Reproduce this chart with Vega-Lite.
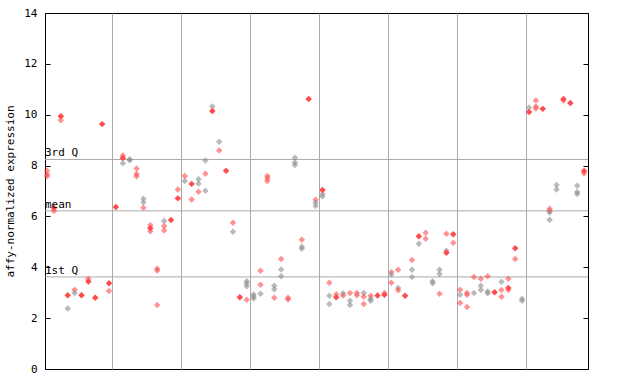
{
  "$schema": "https://vega.github.io/schema/vega-lite/v6.json",
  "width": 543,
  "height": 356,
  "autosize": "none",
  "padding": {"left": 45, "top": 13, "right": 52, "bottom": 15},
  "background": "white",
  "config": {
    "view": {"stroke": "black", "strokeWidth": 1},
    "font": "DejaVu Sans Mono"
  },
  "datasets": {
    "pts": [
      {"s":0,"v":7.80,"c":"r","f":"h"},{"s":0,"v":7.66,"c":"r","f":"h"},{"s":0,"v":7.58,"c":"r","f":"h"},
      {"s":1,"v":6.33,"c":"r","f":"f"},{"s":1,"v":6.21,"c":"r","f":"h"},
      {"s":2,"v":9.94,"c":"r","f":"f"},{"s":2,"v":9.78,"c":"r","f":"h"},
      {"s":3,"v":2.90,"c":"r","f":"f"},{"s":3,"v":2.38,"c":"g","f":"h"},
      {"s":4,"v":3.12,"c":"r","f":"h"},{"s":4,"v":2.99,"c":"g","f":"h"},
      {"s":5,"v":2.90,"c":"r","f":"f"},
      {"s":6,"v":3.55,"c":"r","f":"h"},{"s":6,"v":3.44,"c":"r","f":"f"},
      {"s":7,"v":2.80,"c":"r","f":"f"},
      {"s":8,"v":9.63,"c":"r","f":"f"},
      {"s":9,"v":3.37,"c":"r","f":"f"},{"s":9,"v":3.07,"c":"r","f":"h"},
      {"s":10,"v":6.37,"c":"r","f":"f"},
      {"s":11,"v":8.40,"c":"r","f":"h"},{"s":11,"v":8.30,"c":"r","f":"f"},{"s":11,"v":8.09,"c":"g","f":"h"},
      {"s":12,"v":8.25,"c":"g","f":"h"},{"s":12,"v":8.21,"c":"g","f":"h"},
      {"s":13,"v":7.88,"c":"r","f":"h"},{"s":13,"v":7.67,"c":"r","f":"h"},{"s":13,"v":7.58,"c":"r","f":"h"},
      {"s":14,"v":6.70,"c":"g","f":"h"},{"s":14,"v":6.56,"c":"g","f":"h"},{"s":14,"v":6.34,"c":"r","f":"h"},
      {"s":15,"v":5.65,"c":"r","f":"h"},{"s":15,"v":5.54,"c":"r","f":"f"},{"s":15,"v":5.42,"c":"r","f":"h"},
      {"s":16,"v":3.94,"c":"r","f":"h"},{"s":16,"v":3.87,"c":"r","f":"h"},{"s":16,"v":2.52,"c":"r","f":"h"},
      {"s":17,"v":5.82,"c":"g","f":"h"},{"s":17,"v":5.62,"c":"r","f":"h"},{"s":17,"v":5.45,"c":"r","f":"h"},
      {"s":18,"v":5.86,"c":"r","f":"f"},
      {"s":19,"v":7.06,"c":"r","f":"h"},{"s":19,"v":6.71,"c":"r","f":"f"},
      {"s":20,"v":7.59,"c":"r","f":"h"},{"s":20,"v":7.39,"c":"g","f":"h"},
      {"s":21,"v":7.28,"c":"r","f":"f"},{"s":21,"v":6.67,"c":"r","f":"h"},
      {"s":22,"v":7.46,"c":"g","f":"h"},{"s":22,"v":7.29,"c":"g","f":"h"},{"s":22,"v":6.97,"c":"r","f":"h"},
      {"s":23,"v":8.20,"c":"g","f":"h"},{"s":23,"v":7.68,"c":"r","f":"h"},{"s":23,"v":7.01,"c":"g","f":"h"},
      {"s":24,"v":10.32,"c":"g","f":"h"},{"s":24,"v":10.15,"c":"r","f":"f"},
      {"s":25,"v":8.94,"c":"g","f":"h"},{"s":25,"v":8.59,"c":"r","f":"h"},
      {"s":26,"v":7.80,"c":"r","f":"f"},
      {"s":27,"v":5.75,"c":"r","f":"h"},{"s":27,"v":5.40,"c":"g","f":"h"},
      {"s":28,"v":2.82,"c":"r","f":"f"},
      {"s":29,"v":3.45,"c":"g","f":"h"},{"s":29,"v":3.36,"c":"g","f":"h"},{"s":29,"v":3.25,"c":"g","f":"h"},{"s":29,"v":2.72,"c":"r","f":"h"},
      {"s":30,"v":2.93,"c":"g","f":"h"},{"s":30,"v":2.85,"c":"g","f":"h"},{"s":30,"v":2.77,"c":"g","f":"h"},
      {"s":31,"v":3.86,"c":"r","f":"h"},{"s":31,"v":3.31,"c":"r","f":"h"},{"s":31,"v":2.96,"c":"g","f":"h"},
      {"s":32,"v":7.59,"c":"r","f":"h"},{"s":32,"v":7.50,"c":"r","f":"h"},{"s":32,"v":7.39,"c":"r","f":"h"},
      {"s":33,"v":3.27,"c":"g","f":"h"},{"s":33,"v":3.14,"c":"g","f":"h"},{"s":33,"v":2.80,"c":"r","f":"h"},
      {"s":34,"v":4.33,"c":"r","f":"h"},{"s":34,"v":3.91,"c":"g","f":"h"},{"s":34,"v":3.65,"c":"g","f":"h"},
      {"s":35,"v":2.80,"c":"r","f":"h"},{"s":35,"v":2.73,"c":"r","f":"h"},
      {"s":36,"v":8.31,"c":"g","f":"h"},{"s":36,"v":8.12,"c":"g","f":"h"},{"s":36,"v":8.02,"c":"g","f":"h"},
      {"s":37,"v":5.08,"c":"r","f":"h"},{"s":37,"v":4.81,"c":"g","f":"h"},{"s":37,"v":4.73,"c":"g","f":"h"},
      {"s":38,"v":10.62,"c":"r","f":"f"},
      {"s":39,"v":6.66,"c":"r","f":"h"},{"s":39,"v":6.54,"c":"g","f":"h"},{"s":39,"v":6.41,"c":"g","f":"h"},
      {"s":40,"v":7.04,"c":"r","f":"f"},{"s":40,"v":6.88,"c":"g","f":"h"},{"s":40,"v":6.78,"c":"g","f":"h"},
      {"s":41,"v":3.39,"c":"r","f":"h"},{"s":41,"v":2.88,"c":"g","f":"h"},{"s":41,"v":2.56,"c":"g","f":"h"},
      {"s":42,"v":2.94,"c":"r","f":"h"},{"s":42,"v":2.82,"c":"r","f":"f"},
      {"s":43,"v":2.98,"c":"g","f":"h"},{"s":43,"v":2.89,"c":"r","f":"h"},
      {"s":44,"v":2.99,"c":"r","f":"h"},{"s":44,"v":2.68,"c":"g","f":"h"},{"s":44,"v":2.52,"c":"g","f":"h"},
      {"s":45,"v":2.99,"c":"r","f":"h"},{"s":45,"v":2.90,"c":"r","f":"h"},
      {"s":46,"v":2.99,"c":"g","f":"h"},{"s":46,"v":2.84,"c":"r","f":"h"},{"s":46,"v":2.56,"c":"r","f":"h"},
      {"s":47,"v":2.88,"c":"r","f":"h"},{"s":47,"v":2.76,"c":"g","f":"h"},{"s":47,"v":2.68,"c":"g","f":"h"},
      {"s":48,"v":2.89,"c":"r","f":"f"},
      {"s":49,"v":2.99,"c":"r","f":"h"},{"s":49,"v":2.92,"c":"r","f":"f"},
      {"s":50,"v":3.81,"c":"r","f":"h"},{"s":50,"v":3.72,"c":"g","f":"h"},{"s":50,"v":3.39,"c":"r","f":"h"},
      {"s":51,"v":3.90,"c":"r","f":"h"},{"s":51,"v":3.19,"c":"g","f":"h"},{"s":51,"v":3.10,"c":"r","f":"h"},
      {"s":52,"v":2.88,"c":"r","f":"f"},
      {"s":53,"v":4.29,"c":"r","f":"h"},{"s":53,"v":3.90,"c":"g","f":"h"},{"s":53,"v":3.62,"c":"g","f":"h"},
      {"s":54,"v":5.22,"c":"r","f":"f"},{"s":54,"v":4.93,"c":"g","f":"h"},
      {"s":55,"v":5.36,"c":"r","f":"h"},{"s":55,"v":5.12,"c":"r","f":"h"},
      {"s":56,"v":3.45,"c":"g","f":"h"},{"s":56,"v":3.37,"c":"g","f":"h"},
      {"s":57,"v":3.90,"c":"g","f":"h"},{"s":57,"v":3.74,"c":"g","f":"h"},{"s":57,"v":2.96,"c":"r","f":"h"},
      {"s":58,"v":5.32,"c":"r","f":"h"},{"s":58,"v":4.65,"c":"g","f":"h"},{"s":58,"v":4.57,"c":"r","f":"f"},
      {"s":59,"v":5.30,"c":"r","f":"f"},{"s":59,"v":4.96,"c":"r","f":"h"},
      {"s":60,"v":3.12,"c":"r","f":"h"},{"s":60,"v":2.92,"c":"g","f":"h"},{"s":60,"v":2.60,"c":"r","f":"h"},
      {"s":61,"v":2.99,"c":"r","f":"h"},{"s":61,"v":2.92,"c":"r","f":"h"},{"s":61,"v":2.44,"c":"r","f":"h"},
      {"s":62,"v":3.62,"c":"r","f":"h"},{"s":62,"v":2.99,"c":"g","f":"h"},
      {"s":63,"v":3.55,"c":"r","f":"h"},{"s":63,"v":3.27,"c":"g","f":"h"},{"s":63,"v":3.11,"c":"g","f":"h"},
      {"s":64,"v":3.65,"c":"r","f":"h"},{"s":64,"v":3.05,"c":"g","f":"h"},{"s":64,"v":2.98,"c":"g","f":"h"},
      {"s":65,"v":3.02,"c":"r","f":"f"},
      {"s":66,"v":3.43,"c":"g","f":"h"},{"s":66,"v":3.11,"c":"r","f":"h"},{"s":66,"v":2.84,"c":"r","f":"h"},
      {"s":67,"v":3.55,"c":"r","f":"h"},{"s":67,"v":3.19,"c":"r","f":"f"},{"s":67,"v":3.11,"c":"r","f":"h"},
      {"s":68,"v":4.75,"c":"r","f":"f"},{"s":68,"v":4.33,"c":"r","f":"h"},
      {"s":69,"v":2.76,"c":"g","f":"h"},{"s":69,"v":2.68,"c":"g","f":"h"},
      {"s":70,"v":10.28,"c":"g","f":"h"},{"s":70,"v":10.11,"c":"r","f":"f"},
      {"s":71,"v":10.56,"c":"r","f":"h"},{"s":71,"v":10.32,"c":"r","f":"h"},{"s":71,"v":10.24,"c":"r","f":"h"},
      {"s":72,"v":10.23,"c":"r","f":"f"},
      {"s":73,"v":6.30,"c":"r","f":"h"},{"s":73,"v":6.21,"c":"r","f":"h"},{"s":73,"v":6.15,"c":"g","f":"h"},{"s":73,"v":5.87,"c":"g","f":"h"},
      {"s":74,"v":7.24,"c":"g","f":"h"},{"s":74,"v":7.06,"c":"g","f":"h"},
      {"s":75,"v":10.62,"c":"r","f":"f"},{"s":75,"v":10.56,"c":"r","f":"h"},
      {"s":76,"v":10.46,"c":"r","f":"f"},
      {"s":77,"v":7.21,"c":"g","f":"h"},{"s":77,"v":6.96,"c":"g","f":"h"},{"s":77,"v":6.88,"c":"g","f":"h"},
      {"s":78,"v":7.79,"c":"r","f":"f"},{"s":78,"v":7.69,"c":"r","f":"h"}
    ],
    "stats": [
      {"label": "3rd Q", "v": 8.24},
      {"label": "mean", "v": 6.22},
      {"label": "1st Q", "v": 3.62}
    ]
  },
  "layer": [
    {
      "data": {"name": "stats"},
      "mark": {"type": "rule", "color": "#aaaaaa", "strokeWidth": 1},
      "encoding": {
        "y": {"field": "v", "type": "quantitative", "scale": {"domain": [0, 14], "nice": false},
          "axis": {"orient": "right", "values": [0,2,4,6,8,10,12,14], "labels": false, "tickSize": -5, "tickColor": "black", "domain": false, "grid": false, "title": null}}
      }
    },
    {
      "data": {"name": "pts"},
      "mark": {"type": "point", "shape": "diamond", "filled": true, "size": 42, "strokeWidth": 0},
      "encoding": {
        "x": {"field": "s", "type": "quantitative", "scale": {"domain": [-0.3, 78.57], "nice": false, "zero": false},
          "axis": {"values": [9.5,19.5,29.5,39.5,49.5,59.5,69.5], "grid": true, "gridColor": "#aaaaaa", "gridOpacity": 1, "labels": false, "ticks": false, "domain": false, "title": null}},
        "y": {"field": "v", "type": "quantitative", "scale": {"domain": [0, 14], "nice": false},
          "axis": {"orient": "left", "values": [0,2,4,6,8,10,12,14], "grid": false, "tickSize": -5, "tickColor": "black", "domainColor": "black",
            "labelFont": "DejaVu Sans Mono", "labelFontSize": 11, "labelColor": "black", "labelPadding": 13,
            "title": "affy-normalized expression", "titleFont": "DejaVu Sans Mono", "titleFontSize": 11, "titleFontWeight": "normal", "titleColor": "black",
            "titleX": -35, "titleY": 178, "titleBaseline": "middle"}},
        "color": {"field": "c", "type": "nominal", "scale": {"domain": ["r", "g"], "range": ["#ff4b4b", "#8c8c8c"]}, "legend": null},
        "opacity": {"field": "f", "type": "nominal", "scale": {"domain": ["f", "h"], "range": [1, 0.6]}, "legend": null},
        "order": {"field": "f", "type": "nominal", "sort": "descending"}
      }
    },
    {
      "data": {"name": "stats"},
      "mark": {"type": "text", "align": "left", "baseline": "bottom", "dy": -1, "font": "DejaVu Sans Mono", "fontSize": 11, "color": "black"},
      "encoding": {
        "x": {"datum": -0.3, "type": "quantitative"},
        "y": {"field": "v", "type": "quantitative", "axis": null},
        "text": {"field": "label"}
      }
    }
  ],
  "resolve": {"axis": {"y": "independent"}}
}
